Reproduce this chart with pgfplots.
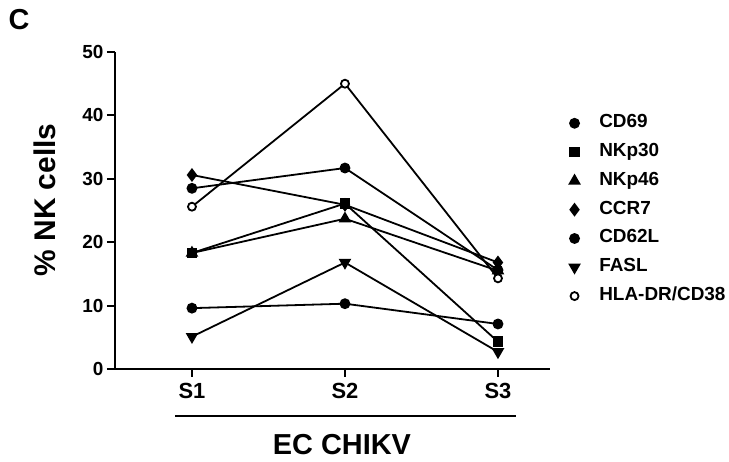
\documentclass[border=0pt]{standalone}
\usepackage{pgfplots}
\pgfplotsset{compat=1.18}
\usepackage{fontspec}
\setmainfont{Liberation Sans}
\begin{document}
\begin{tikzpicture}
\path[use as bounding box] (0,0) rectangle (729bp,462bp);
\begin{axis}[
  at={(115bp,93bp)}, anchor=south west,
  scale only axis, width=435bp, height=317bp,
  xmin=0.497, xmax=3.34, ymin=0, ymax=50,
  axis x line*=bottom, axis y line*=left,
  axis line style={line width=2bp, -},
  xtick={1,2,3}, xticklabels={S1,S2,S3},
  ytick={0,10,20,30,40,50},
  tick align=outside, major tick length=8bp,
  tick style={line width=2bp, black},
  /pgf/number format/assume math mode=true,
  xticklabel style={font=\fontsize{22}{24}\selectfont\bfseries, yshift=-3bp},
  yticklabel style={font=\fontsize{19}{22}\selectfont\bfseries},
  every axis plot/.append style={line width=1.8bp, black},
  legend style={at={(1.045,0.801)}, anchor=north west, draw=none, fill=none,
    inner sep=0pt, font=\fontsize{19}{21}\selectfont\bfseries,
    nodes={inner sep=0pt, text height=12.5bp, text depth=3.5bp},
    row sep=12.8bp, column sep=20bp, legend cell align=left},
  legend image post style={only marks},
  clip=false,
]
\addplot[mark=*, mark size=4.5bp] coordinates {(1,28.5) (2,31.7) (3,15.6)};
\addlegendentry{CD69}
\addplot[mark=square*, mark size=4.5bp] coordinates {(1,18.3) (2,26.1) (3,4.3)};
\addlegendentry{NKp30}
\addplot[mark=triangle*, mark size=5.5bp] coordinates {(1,18.3) (2,23.7) (3,15.5)};
\addlegendentry{NKp46}
\addplot[mark=diamond*, mark size=5.5bp] coordinates {(1,30.6) (2,25.9) (3,16.8)};
\addlegendentry{CCR7}
\addplot[mark=*, mark size=4.5bp] coordinates {(1,9.6) (2,10.3) (3,7.1)};
\addlegendentry{CD62L}
\addplot[mark=triangle*, mark options={rotate=180}, mark size=5.5bp] coordinates {(1,5.1) (2,16.8) (3,2.7)};
\addlegendentry{FASL}
\addplot[mark=*, mark size=4bp, mark options={fill=white, line width=1.8bp}] coordinates {(1,25.6) (2,45.0) (3,14.3)};
\addlegendentry{HLA-DR/CD38}
\end{axis}
\node[inner sep=0pt, rotate=90, font=\fontsize{30}{32}\selectfont\bfseries] at (45bp,262bp) {\% NK cells};
\node[inner sep=0pt, font=\fontsize{29}{31}\selectfont\bfseries] at (19bp,442bp) {C};
\draw[line width=2bp] (175bp,46bp) -- (516bp,46bp);
\node[inner sep=0pt, font=\fontsize{29}{31}\selectfont\bfseries] at (342bp,17bp) {EC CHIKV};
\end{tikzpicture}
\end{document}
